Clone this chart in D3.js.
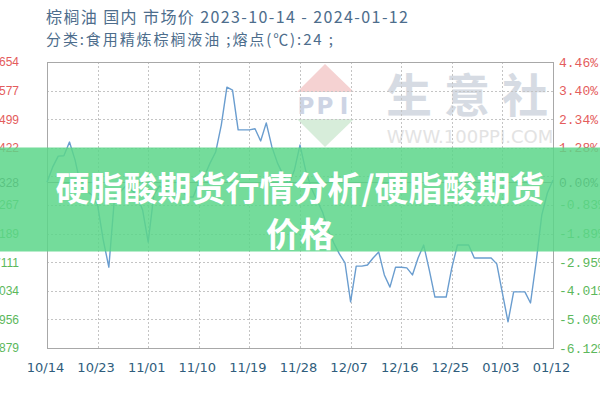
<!DOCTYPE html>
<html>
<head>
<meta charset="utf-8">
<script src="https://cdn.jsdelivr.net/npm/d3@7"></script>
<style>
  body { margin: 0; background: #fff; }
  svg { display: block; }
</style>
</head>
<body>
<script>
// ---------- data ----------
const titleLine1 = "棕榈油 国内 市场价 2023-10-14 - 2024-01-12";
const titleLine2 = "分类:食用精炼棕榈液油 ;熔点(℃):24 ;";
const bannerLine1 = "硬脂酸期货行情分析/硬脂酸期货";
const bannerLine2 = "价格";

const startDate = "2023-10-14";
const endDate = "2024-01-12";
const prices = [
  7328, 7369, 7399, 7400, 7437, 7388, 7318, 7304, 7294, 7266,
  7172, 7098, 7285, 7302, 7318, 7307, 7294, 7253, 7166, 7294,
  7318, 7307, 7294, 7299, 7307, 7288, 7288, 7326, 7345, 7380,
  7410, 7483, 7586, 7578, 7470, 7470, 7470, 7473, 7440, 7489,
  7424, 7380, 7348, 7323, 7361, 7429, 7361, 7313, 7280, 7248,
  7199, 7164, 7134, 7110, 7004, 7101, 7101, 7104, 7123, 7139,
  7077, 7044, 7098, 7098, 7096, 7077, 7123, 7158, 7090, 7017,
  7017, 7017, 7096, 7158, 7158, 7158, 7123, 7123, 7123, 7123,
  7107, 7028, 6950, 7031, 7031, 7031, 7001, 7112, 7239, 7299,
  7334
];
const baseValue = 7328;
const yMin = 6879, yMax = 7654;

const xTickDates = ["2023-10-14","2023-10-23","2023-11-01","2023-11-10","2023-11-19",
  "2023-11-28","2023-12-07","2023-12-16","2023-12-25","2024-01-03","2024-01-12"];
const xTickLabels = ["10/14","10/23","11/01","11/10","11/19","11/28","12/07","12/16","12/25","01/03","01/12"];

const yTickValues = [7654, 7577, 7499, 7422, 7328, 7267, 7189, 7111, 7034, 6956, 6879];
const yLeftLabels = ["7654","7577","7499","7422","7328","7267","7189","7111","7034","6956","6879"];
const yRightLabels = ["4.46%","3.40%","2.34%","1.28%","0.00%","-0.83%","-1.89%","-2.95%","-4.01%","-5.06%","-6.12%"];

// ---------- setup ----------
const W = 600, H = 400;
const plot = { left: 47, right: 553, top: 62, bottom: 348 };
const parse = d3.timeParse("%Y-%m-%d");
const days = d3.timeDay.range(parse(startDate), d3.timeDay.offset(parse(endDate), 1));
const series = prices.map((v, i) => ({ date: days[i], value: v }));

const svg = d3.select("body").append("svg").attr("width", W).attr("height", H);

const x = d3.scaleTime().domain([parse(startDate), parse(endDate)]).range([plot.left, plot.right]);
const y = d3.scaleLinear().domain([yMin, yMax]).range([plot.bottom, plot.top]);

const RED = "#e45c5c", GREEN = "#5cb85c", BASEC = "#555";
const colorFor = v => v > baseValue ? RED : (v < baseValue ? GREEN : BASEC);

// ---------- titles ----------
svg.append("text").attr("x", 46).attr("y", 23)
  .attr("font-family", "'Noto Sans CJK SC', sans-serif").attr("font-size", 16)
  .attr("fill", "#4d6d8c").attr("textLength", 362).attr("lengthAdjust", "spacing")
  .text(titleLine1);
svg.append("text").attr("x", 46).attr("y", 45)
  .attr("font-family", "'Noto Sans CJK SC', sans-serif").attr("font-size", 15)
  .attr("fill", "#4d6d8c").attr("textLength", 287).attr("lengthAdjust", "spacing")
  .text(titleLine2);

// ---------- watermark ----------
const wm = svg.append("g");
wm.append("path").attr("d", "M325,64 L297,92 L354,92 Z").attr("fill", "#f5d2d2");
wm.append("path").attr("d", "M325,147 L297,119 L354,119 Z").attr("fill", "#d7edda");
["P","P","I"].forEach((c, i) => {
  wm.append("text").attr("x", 306 + i * 19).attr("y", 114).attr("text-anchor", "middle")
    .attr("font-family", "'DejaVu Sans', sans-serif").attr("font-weight", "bold")
    .attr("font-size", 23).attr("fill", "#cdd4e4").text(c);
});
["生","意","社"].forEach((c, i) => {
  wm.append("text").attr("x", 409 + i * 58).attr("y", 112).attr("text-anchor", "middle")
    .attr("font-family", "'Noto Sans CJK SC', sans-serif").attr("font-weight", "bold")
    .attr("font-size", 46).attr("fill", "#d6dbe3").text(c);
});
wm.append("text").attr("x", 470).attr("y", 143).attr("text-anchor", "middle")
  .attr("font-family", "'DejaVu Sans', sans-serif").attr("font-size", 18)
  .attr("fill", "#e3e3e3").text("WWW.100PPI.COM");

// ---------- grid ----------
const gridVals = d3.range(11).map(i => yMin + i * (yMax - yMin) / 10);
svg.append("g").selectAll("line").data(gridVals).join("line")
  .attr("x1", plot.left).attr("x2", plot.right)
  .attr("y1", d => Math.round(y(d)) + 0.5).attr("y2", d => Math.round(y(d)) + 0.5)
  .attr("stroke", "#c4c4c4").attr("stroke-dasharray", "2,2");
svg.append("g").selectAll("line").data(xTickDates).join("line")
  .attr("x1", d => Math.round(x(parse(d))) + 0.5).attr("x2", d => Math.round(x(parse(d))) + 0.5)
  .attr("y1", plot.top).attr("y2", plot.bottom)
  .attr("stroke", "#c4c4c4").attr("stroke-dasharray", "2,2");
// base line
svg.append("line").attr("x1", plot.left).attr("x2", plot.right)
  .attr("y1", Math.round(y(baseValue)) + 0.5).attr("y2", Math.round(y(baseValue)) + 0.5)
  .attr("stroke", "#8a8a8a");

// frame
svg.append("rect").attr("x", plot.left + 0.5).attr("y", plot.top + 0.5)
  .attr("width", plot.right - plot.left).attr("height", plot.bottom - plot.top)
  .attr("fill", "none").attr("stroke", "#a8a8a8");

// ---------- line ----------
const line = d3.line().x(d => x(d.date)).y(d => y(d.value));
svg.append("path").datum(series).attr("d", line)
  .attr("fill", "none").attr("stroke", "#6a9dcf").attr("stroke-width", 1.4)
  .attr("stroke-linejoin", "round");

// ---------- axes ----------
const xAxis = d3.axisBottom(x).tickValues(xTickDates.map(parse))
  .tickFormat((d, i) => xTickLabels[i]).tickSize(0).tickPadding(0);
const gx = svg.append("g").attr("transform", `translate(0,${plot.bottom + 20})`).call(xAxis);
gx.select(".domain").remove();
gx.selectAll("text").attr("font-family", "'DejaVu Sans', sans-serif").attr("font-size", 13)
  .attr("fill", "#2f5d7c").attr("dy", "0.3em").attr("dx", -2);

const yL = d3.axisLeft(y).tickValues(yTickValues).tickFormat((d, i) => yLeftLabels[i])
  .tickSize(0).tickPadding(0);
const gl = svg.append("g").attr("transform", "translate(19,0)").call(yL);
gl.select(".domain").remove();
gl.selectAll("text").attr("font-family", "'Liberation Sans', Arial, sans-serif").attr("font-size", 12)
  .attr("fill", d => colorFor(d));

const yR = d3.axisRight(y).tickValues(yTickValues).tickFormat((d, i) => yRightLabels[i])
  .tickSize(0).tickPadding(0);
const gr = svg.append("g").attr("transform", "translate(559,0)").call(yR);
gr.select(".domain").remove();
gr.selectAll("text").attr("font-family", "'Liberation Mono', 'DejaVu Sans Mono', monospace").attr("font-size", 13)
  .attr("fill", d => colorFor(d));

// ---------- banner ----------
svg.append("rect").attr("x", 0).attr("y", 147.5).attr("width", W).attr("height", 104)
  .attr("fill", "#5cd68a").attr("fill-opacity", 0.85);
svg.append("text").attr("x", 300).attr("y", 186).attr("text-anchor", "middle")
  .attr("dominant-baseline", "central")
  .attr("font-family", "'Noto Sans CJK SC', sans-serif").attr("font-weight", "bold")
  .attr("font-size", 34).attr("fill", "#fff").text(bannerLine1);
svg.append("text").attr("x", 300).attr("y", 232).attr("text-anchor", "middle")
  .attr("dominant-baseline", "central")
  .attr("font-family", "'Noto Sans CJK SC', sans-serif").attr("font-weight", "bold")
  .attr("font-size", 34).attr("fill", "#fff").text(bannerLine2);
</script>
</body>
</html>
